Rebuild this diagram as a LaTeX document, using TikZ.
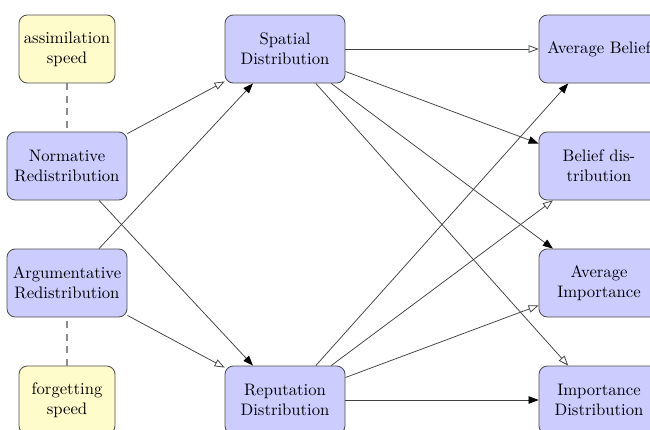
\documentclass[tikz,border=0pt]{standalone}
\usetikzlibrary{arrows.meta}
\begin{document}
\begin{tikzpicture}[x=0.6pt,y=-0.6pt,
  box/.style={draw=black!70, line width=0.5pt, rounded corners=5pt, minimum width=72pt, minimum height=40.8pt, align=center, inner sep=2pt, fill=blue!20},
  param/.style={box, fill=yellow!20, minimum width=57.6pt},
  link/.style={draw=black!75, line width=0.45pt},
  opentip/.style={link, -{Triangle[open, fill=white, length=6pt, width=4.5pt]}},
  filltip/.style={link, -{Triangle[color=black, length=6pt, width=4.5pt]}},
  dashlink/.style={draw=black!45, line width=0.7pt, dash pattern=on 4pt off 3.5pt}]
\useasboundingbox (0,0) rectangle (650,430);
\clip (0,0) rectangle (650,430);
\node[param] (as) at (67,49) {assimilation\\speed};
\node[box] (nr) at (67,166) {Normative\\Redistribution};
\node[box] (ar) at (67,283) {Argumentative\\Redistribution};
\node[param] (fs) at (67,400) {forgetting\\speed};
\node[box] (sd) at (285,49) {Spatial\\Distribution};
\node[box] (rd) at (285,400) {Reputation\\Distribution};
\node[box] (ab) at (599,49) {Average Belief};
\node[box] (bd) at (599,166) {Belief dis-\\tribution};
\node[box] (ai) at (599,283) {Average\\Importance};
\node[box] (id) at (599,400) {Importance\\Distribution};
\draw[dashlink] (as) -- (nr);
\draw[dashlink] (fs) -- (ar);
\draw[opentip] (nr) -- (sd);
\draw[filltip] (ar) -- (sd);
\draw[filltip] (nr) -- (rd);
\draw[opentip] (ar) -- (rd);
\draw[opentip] (sd) -- (ab);
\draw[filltip] (sd) -- (bd);
\draw[filltip] (sd) -- (ai);
\draw[opentip] (sd) -- (id);
\draw[filltip] (rd) -- (ab);
\draw[opentip] (rd) -- (bd);
\draw[opentip] (rd) -- (ai);
\draw[filltip] (rd) -- (id);
\end{tikzpicture}
\end{document}
